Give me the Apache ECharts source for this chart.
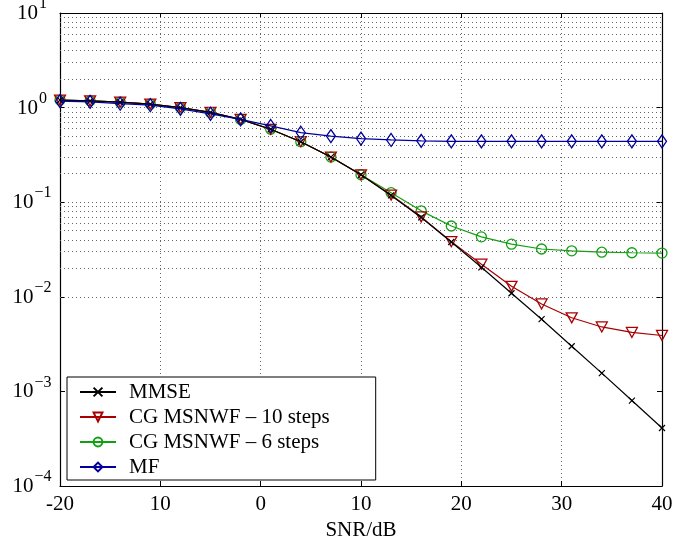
<!DOCTYPE html>
<html>
<head>
<meta charset="utf-8">
<script src="https://cdn.jsdelivr.net/npm/echarts@6/dist/echarts.min.js"></script>
<style>html,body{margin:0;padding:0;background:#fff}#c{width:673px;height:540px}</style>
</head>
<body>
<div id="c"></div>
<script>
// ---- data ----
var snr = [-20,-17,-14,-11,-8,-5,-2,1,4,7,10,13,16,19,22,25,28,31,34,37,40];
var mmse = [1.20,1.18,1.14,1.09,1.00,0.89,0.75,0.59,0.436,0.30,0.195,0.118,0.069,0.038,0.0205,0.0109,0.0058,0.0030,0.00156,0.00080,0.00041];
var cg10 = [1.20,1.18,1.14,1.09,1.00,0.89,0.75,0.59,0.436,0.30,0.195,0.119,0.070,0.0382,0.0221,0.0129,0.0084,0.0060,0.0048,0.0042,0.0039];
var cg6  = [1.20,1.18,1.14,1.09,1.00,0.89,0.75,0.59,0.436,0.30,0.195,0.126,0.081,0.056,0.043,0.036,0.032,0.0306,0.0296,0.0292,0.029];
var mf   = [1.17,1.15,1.10,1.06,0.97,0.86,0.75,0.64,0.543,0.50,0.47,0.455,0.445,0.44,0.44,0.44,0.44,0.44,0.44,0.44,0.44];
var seriesNames = ['MMSE','CG MSNWF \u2013 10 steps','CG MSNWF \u2013 6 steps','MF'];
var xTickValues = [-20,-10,0,10,20,30,40];
var xTickLabels = ['-20','10','0','10','20','30','40'];
var yTickValues = [0.0001,0.001,0.01,0.1,1,10];
var yTickExps = ['\u22124','\u22123','\u22122','\u22121','0','1'];
var yMinorGrid = [];
[0.0001,0.001,0.01,0.1,1].forEach(function(d){ [2,3,4,5,6,7,8,9].forEach(function(k){ yMinorGrid.push(+(k*d).toPrecision(3)); }); });
var yMajorGrid = [0.001,0.01,0.1,1];

function pairs(ys){ return snr.map(function(x,i){ return [x, ys[i]]; }); }

var FONT = "'Liberation Serif','Times New Roman',serif";
var dotted = {color:'#666', width:1, type:[1,3]};

var chart = echarts.init(document.getElementById('c'), null, {renderer:'canvas'});
var option = {
  animation:false,
  backgroundColor:'#fff',
  textStyle:{fontFamily:FONT},
  grid:{left:60, right:11, top:13, bottom:54, containLabel:false, outerBoundsMode:'none'},
  xAxis:[{
    type:'value', min:-20, max:40, interval:10,
    name:'SNR/dB', nameLocation:'middle', nameGap:23,
    nameTextStyle:{fontFamily:FONT, fontSize:21, color:'#000'},
    axisLine:{show:true, onZero:false, lineStyle:{color:'#000', width:1.2}},
    axisTick:{show:true, inside:true, length:5, lineStyle:{color:'#000'}},
    axisLabel:{fontFamily:FONT, fontSize:21, color:'#000', margin:8, hideOverlap:false,
      formatter:function(v){ var i = xTickValues.indexOf(v); return i>=0 ? xTickLabels[i] : ''; }},
    splitLine:{show:true, lineStyle:dotted}
  },{
    type:'value', min:-20, max:40, interval:10, position:'top',
    axisLine:{show:true, onZero:false, lineStyle:{color:'#000', width:1.2}},
    axisTick:{show:true, inside:true, length:5, lineStyle:{color:'#000'}},
    axisLabel:{show:false}, splitLine:{show:false}
  }],
  yAxis:[{
    type:'log', logBase:10, min:0.0001, max:10,
    name:'MSE', nameLocation:'middle', nameGap:38, nameRotate:90,
    nameTextStyle:{fontFamily:FONT, fontSize:21, color:'#000'},
    axisLine:{show:true, onZero:false, lineStyle:{color:'#000', width:1.2}},
    axisTick:{show:true, inside:true, length:5, lineStyle:{color:'#000'}},
    axisLabel:{margin:28, align:'center', hideOverlap:false,
      formatter:function(v){
        var best=-1, bd=1e9;
        yTickValues.forEach(function(t,i){ var d=Math.abs(Math.log10(t)-Math.log10(v)); if(d<bd){bd=d;best=i;} });
        return bd<1e-6 ? '{b|10}{s|' + yTickExps[best] + '}' : '';
      },
      rich:{
        b:{fontFamily:FONT, fontSize:21, color:'#000', lineHeight:22, verticalAlign:'bottom'},
        s:{fontFamily:FONT, fontSize:16, color:'#000', lineHeight:16, padding:[0,0,12,1], verticalAlign:'bottom'}
      }},
    splitLine:{show:false}
  },{
    type:'log', logBase:10, min:0.0001, max:10, position:'right',
    axisLine:{show:true, onZero:false, lineStyle:{color:'#000', width:1.2}},
    axisTick:{show:true, inside:true, length:5, lineStyle:{color:'#000'}},
    axisLabel:{show:false}, splitLine:{show:false}
  }],
  legend:{
    orient:'vertical', left:67, top:377, z:20,
    backgroundColor:'#fff', borderColor:'#000', borderWidth:1, borderRadius:0,
    padding:[4,46,2,12], itemGap:3, itemWidth:36, itemHeight:11,
    textStyle:{fontFamily:FONT, fontSize:21, color:'#000', lineHeight:22, padding:[0,0,0,8]},
    data:seriesNames
  },
  series:[
    {name:seriesNames[0], type:'line', data:pairs(mmse), z:5,
     symbol:'path://M0,0L10,10M10,0L0,10', symbolSize:6, showAllSymbol:true,
     lineStyle:{color:'#000', width:1.2},
     itemStyle:{color:'#000', borderColor:'#000', borderWidth:1.2},
     markLine:{silent:true, symbol:['none','none'], label:{show:false}, animation:false,
       lineStyle:dotted, emphasis:{disabled:true},
       data:yMinorGrid.concat(yMajorGrid).map(function(v){ return {yAxis:v}; })}
    },
    {name:seriesNames[1], type:'line', data:pairs(cg10), z:4,
     symbol:'triangle', symbolRotate:180, symbolSize:[11,10], showAllSymbol:true,
     lineStyle:{color:'#a80000', width:1.2},
     itemStyle:{color:'rgba(255,255,255,0)', borderColor:'#a80000', borderWidth:1.3}},
    {name:seriesNames[2], type:'line', data:pairs(cg6), z:3,
     symbol:'circle', symbolSize:10, showAllSymbol:true,
     lineStyle:{color:'#12a012', width:1.2},
     itemStyle:{color:'rgba(255,255,255,0)', borderColor:'#12a012', borderWidth:1.3}},
    {name:seriesNames[3], type:'line', data:pairs(mf), z:6,
     symbol:'diamond', symbolSize:[9,13], showAllSymbol:true,
     lineStyle:{color:'#00009c', width:1.2},
     itemStyle:{color:'rgba(255,255,255,0)', borderColor:'#00009c', borderWidth:1.3}}
  ]
};
chart.setOption(option);
</script>
</body>
</html>
